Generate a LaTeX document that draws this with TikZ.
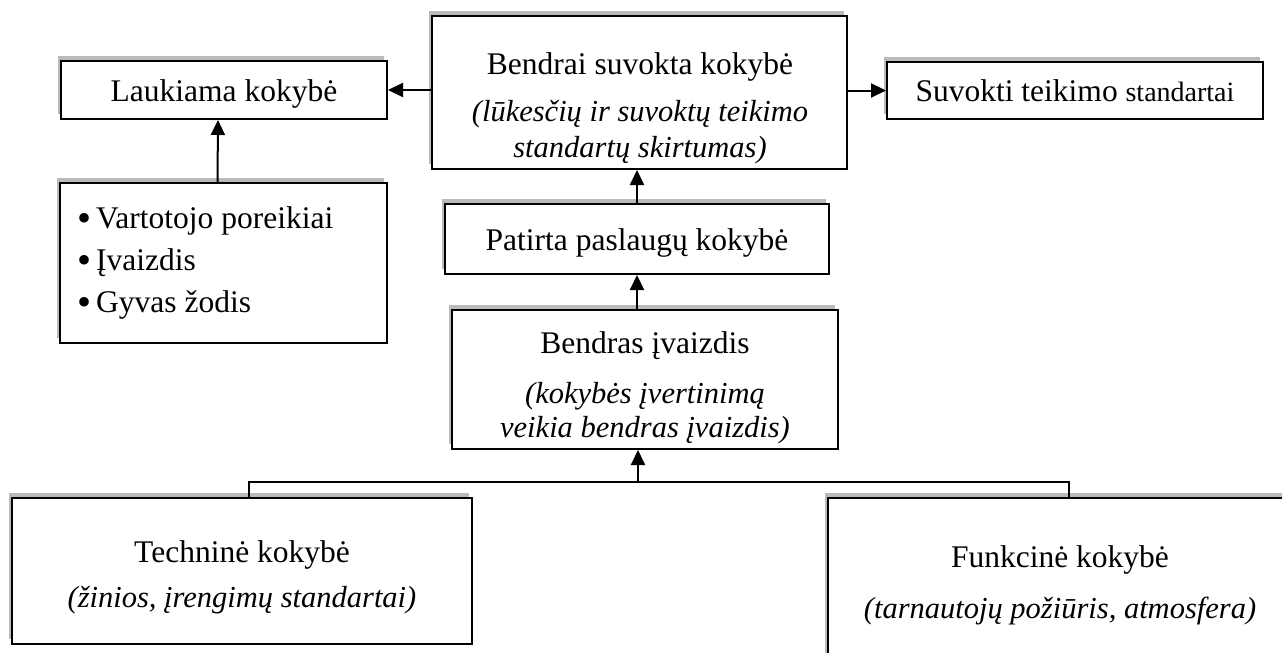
\documentclass[tikz,border=0pt]{standalone}
\usepackage{fontspec}
\setmainfont{Liberation Serif}
\usetikzlibrary{arrows.meta,shadows}
\newcommand{\bigbul}{\makebox[19pt][l]{\raisebox{-3pt}{\fontsize{40}{40}\selectfont •}}}
\begin{document}
\begin{tikzpicture}[x=1pt,y=-1pt,
  box/.style={draw=black, line width=2pt, fill=white, inner sep=0pt, rectangle,
     general shadow={fill=black!27, shadow xshift=-3.5pt, shadow yshift=5pt}},
  txt/.style={inner sep=0pt, anchor=base, font=\fontsize{31.5}{36}\selectfont},
  itx/.style={txt, font=\fontsize{30.5}{36}\selectfont\itshape},
  conn/.style={line width=2pt},
  arr/.style={conn, -{Triangle[length=15pt,width=14pt]}}
]
\useasboundingbox (0,0) rectangle (1282,653);
\clip (0,0) rectangle (1282,653);

% boxes
\node[box, minimum width=326pt, minimum height=58pt] (lauk) at (224,90) {};
\node[box, minimum width=415pt, minimum height=153pt] (bendrai) at (639.5,92.5) {};
\node[box, minimum width=376pt, minimum height=57pt] (suv) at (1075,90.5) {};
\node[box, minimum width=327pt, minimum height=160pt] (list) at (223.5,263) {};
\node[box, minimum width=384pt, minimum height=70pt] (patirta) at (637,239) {};
\node[box, minimum width=386pt, minimum height=139pt] (bendras) at (645,379.5) {};
\node[box, minimum width=460pt, minimum height=146pt] (tech) at (242,571) {};
\node[box, minimum width=464pt, minimum height=168pt] (funk) at (1060,582) {};

% texts
\node[txt] (tlauk) at (224,101) {Laukiama kokybė};
\node[txt] (tb1) at (640,74) {Bendrai suvokta kokybė};
\node[itx] (tb2) at (640,121) {(lūkesčių ir suvoktų teikimo};
\node[itx] (tb3) at (640,157) {standartų skirtumas)};
\node[txt] (tsuv) at (1075,101) {Suvokti teikimo {\fontsize{28}{30}\selectfont standartai}};
\node[txt] (tpat) at (637,250) {Patirta paslaugų kokybė};
\node[txt, anchor=base west] (l1) at (77,228) {\bigbul Vartotojo poreikiai};
\node[txt, anchor=base west] (l2) at (77,270) {\bigbul Įvaizdis};
\node[txt, anchor=base west] (l3) at (77,312) {\bigbul Gyvas žodis};
\node[txt] (tbe1) at (645,353) {Bendras įvaizdis};
\node[itx] (tbe2) at (645,403) {(kokybės įvertinimą};
\node[itx] (tbe3) at (645,437) {veikia bendras įvaizdis)};
\node[txt] (tt1) at (242,562) {Techninė kokybė};
\node[itx] (tt2) at (242,607) {(žinios, įrengimų standartai)};
\node[txt] (tf1) at (1060,567) {Funkcinė kokybė};
\node[itx] (tf2) at (1060,618) {(tarnautojų požiūris, atmosfera)};

% connectors
\draw[arr] (bendrai.west |- lauk.east) -- (lauk.east);
\draw[arr] (bendrai.east |- suv.west) -- (suv.west);
\draw[arr] ([xshift=-6pt]list.north) -- ([xshift=-6pt]lauk.south);
\draw[arr] (patirta.north) -- (patirta.north |- bendrai.south);
\draw[arr] (bendras.north -| patirta.south) -- (patirta.south);
\coordinate (j) at (638,482);
\draw[conn] ([xshift=7pt]tech.north) |- (j) -| ([xshift=9pt]funk.north);
\draw[arr] (j) -- (j |- bendras.south);
\end{tikzpicture}
\end{document}
